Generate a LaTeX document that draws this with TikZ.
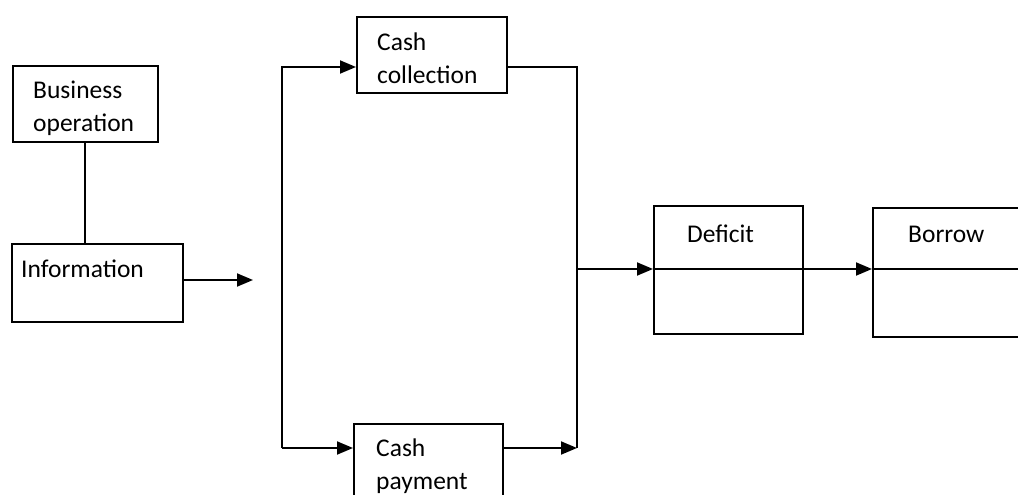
\documentclass[tikz,border=0pt]{standalone}
\usepackage{fontspec}
\setmainfont{Carlito}
\usetikzlibrary{arrows.meta}

\tikzset{
  box/.style={draw, line width=1.7pt, anchor=north west, inner sep=0pt},
  boxtext/.style={anchor=north west, inner sep=0pt, align=left,
    font=\fontsize{25.5}{33}\selectfont},
  link/.style={line width=1.9pt},
  flow/.style={line width=1.9pt, -{Triangle[length=16pt,width=13pt]}}
}

\begin{document}
\begin{tikzpicture}[x=1pt,y=-1pt]
  \useasboundingbox (0,0) rectangle (1018,495);

  % boxes
  \node[box, minimum width=145pt, minimum height=76pt] (bizop) at (12,65) {};
  \node[box, minimum width=171pt, minimum height=78pt] (info) at (11,243) {};
  \node[box, minimum width=150pt, minimum height=76pt] (collect) at (356,16) {};
  \node[box, minimum width=149pt, minimum height=80pt] (payment) at (353,423) {};
  \node[box, minimum width=149pt, minimum height=128pt] (deficit) at (653,205) {};
  \node[box, minimum width=170pt, minimum height=129pt] (borrow) at (872,207) {};

  % texts
  \node[boxtext] (bizop-t) at ([xshift=21pt,yshift=-10.4pt]bizop.north west) {\strut Business\\operation};
  \node[boxtext] (info-t) at ([xshift=10pt,yshift=-11.4pt]info.north west) {\strut Information};
  \node[boxtext] (collect-t) at ([xshift=21pt,yshift=-11.4pt]collect.north west) {\strut Cash\\collection};
  \node[boxtext] (payment-t) at ([xshift=23pt,yshift=-10.4pt]payment.north west) {\strut Cash\\payment};
  \node[boxtext] (deficit-t) at ([xshift=34pt,yshift=-14.4pt]deficit.north west) {\strut Deficit};
  \node[boxtext] (borrow-t) at ([xshift=36pt,yshift=-12.4pt]borrow.north west) {\strut Borrow};

  % corner points of the lines
  \coordinate (infoend) at (253,280);
  \coordinate (lefttop) at (282,67);
  \coordinate (leftbot) at (282,448);
  \coordinate (righttop) at (577,67);
  \coordinate (rightbot) at (577,448);
  \coordinate (rightmid) at (577,269);
  \coordinate (edge) at (1018,269);

  % connectors
  \draw[link] (bizop.south) -- (bizop.south |- info.north);
  \draw[flow] (info.east |- infoend) -- (infoend);
  \draw[flow] (leftbot) -- (lefttop) -- (lefttop -| collect.west);
  \draw[flow] (leftbot) -- (leftbot -| payment.west);
  \draw[link] (righttop -| collect.east) -- (righttop) -- (rightbot);
  \draw[flow] (rightbot -| payment.east) -- (rightbot);
  \draw[flow] (rightmid) -- (rightmid -| deficit.west);
  \draw[link] (rightmid -| deficit.west) -- (rightmid -| deficit.east);
  \draw[flow] (rightmid -| deficit.east) -- (rightmid -| borrow.west);
  \draw[link] (rightmid -| borrow.west) -- (edge);
\end{tikzpicture}
\end{document}
